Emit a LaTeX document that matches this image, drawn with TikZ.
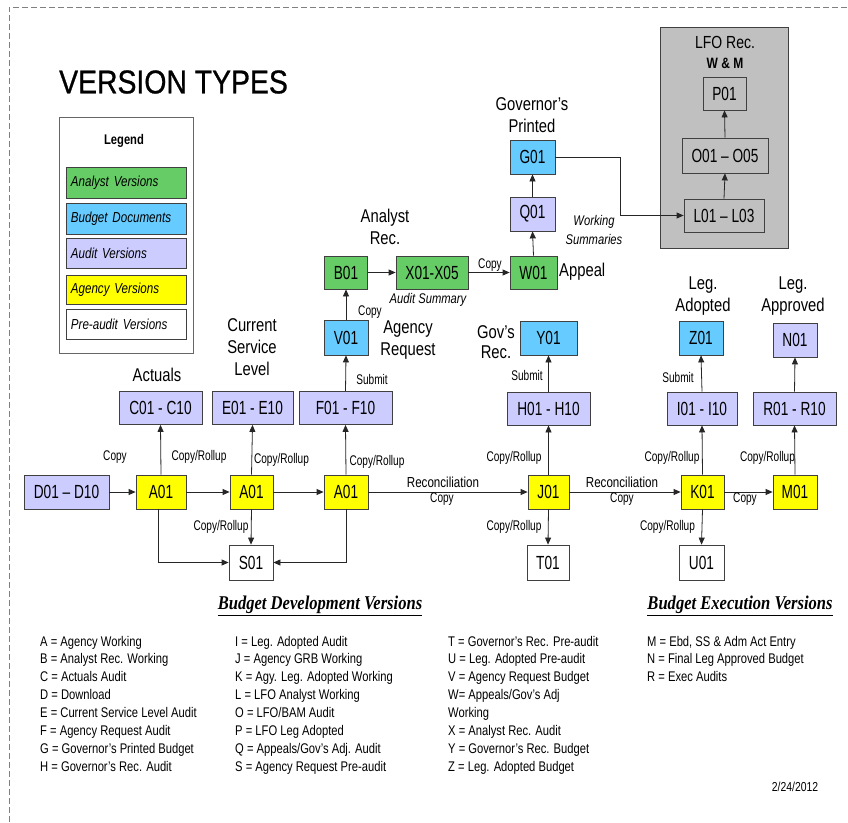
\documentclass[tikz,border=0pt]{standalone}
\usepackage{fontspec}
\setmainfont{Liberation Sans}[FakeStretch=0.8]
\newfontfamily\narrowfont{Liberation Sans}[FakeStretch=0.72]
\newfontfamily\titlefont{Liberation Sans}[FakeStretch=0.86, FakeBold=0.8]
\newfontfamily\headfont{Liberation Serif}[FakeStretch=0.85]
\usetikzlibrary{arrows.meta}

\definecolor{analyst}{HTML}{66CC66}
\definecolor{budgetdoc}{HTML}{66CCFF}
\definecolor{audit}{HTML}{CCCCFF}
\definecolor{agency}{HTML}{FFFF00}
\definecolor{lfogray}{HTML}{C0C0C0}
\definecolor{edge}{HTML}{404040}

\tikzset{
  vbox/.style={draw=edge, line width=0.8pt, inner sep=0pt, minimum height=34pt,
    font=\narrowfont\fontsize{19}{21}\selectfont},
  analystbox/.style={vbox, fill=analyst},
  docbox/.style={vbox, fill=budgetdoc},
  auditbox/.style={vbox, fill=audit},
  agencybox/.style={vbox, fill=agency},
  prebox/.style={vbox, fill=white},
  lfobox/.style={vbox, fill=lfogray},
  conn/.style={draw=black!85, line width=0.8pt, -{Triangle[length=7pt,width=6pt]}},
  tag/.style={font=\narrowfont\fontsize{14}{16}\selectfont, inner sep=0pt},
  caption/.style={font=\fontsize{18.5}{22}\selectfont, align=center, inner sep=0pt},
  note/.style={font=\itshape\fontsize{14}{19}\selectfont, align=center, inner sep=0pt},
  keyline/.style={font=\fontsize{14}{16}\selectfont, anchor=base west, inner sep=0pt},
  legendkey/.style={draw=edge, line width=0.8pt, inner sep=0pt, anchor=north west,
    minimum width=120pt, minimum height=31pt, text width=111pt, align=left,
    font=\itshape\fontsize{14.5}{16}\selectfont},
  heading/.style={font=\headfont\bfseries\itshape\fontsize{19.5}{21}\selectfont, inner sep=0pt},
}

\begin{document}
\begin{tikzpicture}[x=1pt, y=-1pt]
\useasboundingbox (0,0) rectangle (848,822);
\fill[white] (0,0) rectangle (848,822);

% dashed frame
\draw[gray, line width=1pt, dash pattern=on 6pt off 3pt] (9,822) -- (9,7) -- (848,7);

% title
\node[anchor=west, inner sep=0pt, font=\titlefont\fontsize{33}{35}\selectfont] (title) at (59,82) {VERSION TYPES};

% legend
\draw[draw=gray!80!black, line width=0.9pt] (59,117) rectangle (193,353);
\node[font=\bfseries\fontsize{14}{16}\selectfont, inner sep=0pt] (legendhead) at (124,141) {Legend};
\node[legendkey, fill=analyst] (k1) at (66,167) {Analyst Versions};
\node[legendkey, fill=budgetdoc] (k2) at (66,203) {Budget Documents};
\node[legendkey, fill=audit, minimum height=30pt] (k3) at (66,238) {Audit Versions};
\node[legendkey, fill=agency, minimum height=29pt] (k4) at (66,275) {Agency Versions};
\node[legendkey, fill=white, minimum height=30pt] (k5) at (66,309) {Pre-audit Versions};

% LFO panel
\draw[draw=edge, line width=1pt, fill=lfogray] (660,27) rectangle (788,248);
\node[font=\fontsize{17.5}{20}\selectfont, inner sep=0pt] (lforec) at (725,42) {LFO Rec.};
\node[font=\bfseries\fontsize{15}{18}\selectfont, inner sep=0pt] (wm) at (725,63) {W \& M};

% version boxes
\node[auditbox, minimum width=85pt] (d) at (66.5,492) {D01 – D10};
\node[agencybox, minimum width=50pt] (a1) at (161,492) {A01};
\node[agencybox, minimum width=43pt] (a2) at (251.5,492) {A01};
\node[agencybox, minimum width=44pt] (a3) at (346,492) {A01};
\node[prebox, minimum width=44pt, minimum height=35pt] (s) at (251,562.5) {S01};
\node[auditbox, minimum width=83pt, minimum height=33pt] (c) at (160.5,408) {C01 - C10};
\node[auditbox, minimum width=81pt, minimum height=33pt] (e) at (252.5,408) {E01 - E10};
\node[auditbox, minimum width=93pt, minimum height=33pt] (f) at (345.5,408) {F01 - F10};
\node[docbox, minimum width=44pt, minimum height=35pt] (v) at (346,337.5) {V01};
\node[analystbox, minimum width=43pt, minimum height=33pt] (b) at (346,272.5) {B01};
\node[analystbox, minimum width=72pt, minimum height=33pt] (x) at (432,272.5) {X01-X05};
\node[analystbox, minimum width=47pt, minimum height=33pt] (w) at (533.5,272.5) {W01};
\node[auditbox, minimum width=45pt] (q) at (532.5,214) {Q01};
\node[docbox, minimum width=45pt] (g) at (532.5,157) {G01};
\node[lfobox, minimum width=43pt, minimum height=33pt] (p) at (724.5,93.5) {P01};
\node[lfobox, minimum width=86pt, minimum height=35pt] (o) at (725,155.5) {O01 – O05};
\node[lfobox, minimum width=80pt, minimum height=33pt] (l) at (724,215.5) {L01 – L03};
\node[docbox, minimum width=57pt] (y) at (548.5,338) {Y01};
\node[auditbox, minimum width=83pt, minimum height=33pt] (h) at (548.5,408.5) {H01 - H10};
\node[agencybox, minimum width=41pt] (j) at (548.5,492) {J01};
\node[prebox, minimum width=42pt, minimum height=35pt] (t) at (548,562.5) {T01};
\node[docbox, minimum width=44pt] (z) at (701,338) {Z01};
\node[auditbox, minimum width=70pt, minimum height=33pt] (i) at (702,408.5) {I01 - I10};
\node[agencybox, minimum width=43pt] (k) at (702.5,492) {K01};
\node[prebox, minimum width=45pt, minimum height=35pt] (u) at (701.5,562.5) {U01};
\node[auditbox, minimum width=44pt] (n) at (795,340) {N01};
\node[auditbox, minimum width=83pt, minimum height=33pt] (r) at (794.5,408.5) {R01 - R10};
\node[agencybox, minimum width=44pt] (m) at (795,492) {M01};

% captions
\node[caption] (capact) at (157,375) {Actuals};
\node[caption] (capcsl) at (252,347) {Current\\Service\\Level};
\node[caption] (capreq) at (408,340) {Agency\\Request};
\node[caption] (capana) at (385,226.5) {Analyst\\Rec.};
\node[caption] (capgov) at (532,115.5) {Governor's\\Printed};
\node[caption, anchor=west] (capapp) at (559,272) {Appeal};
\node[caption, font=\fontsize{18.5}{20}\selectfont] (capgr) at (496,342) {Gov's\\Rec.};
\node[caption] (capado) at (703,296) {Leg.\\Adopted};
\node[caption] (capapr) at (793,296) {Leg.\\Approved};
\node[note] (worksum) at (594,229.5) {Working\\Summaries};
\node[note] (audsum) at (428,300) {Audit Summary};

% connectors along the main line
\draw[conn] (d) -- (a1);
\draw[conn] (a1) -- (a2);
\draw[conn] (a2) -- (a3);
\draw[conn] (a3) -- (j);
\draw[conn] (j) -- (k);
\draw[conn] (k) -- (m);

% audits and pre-audits
\draw[conn] (a1.north) -- (c.south);
\draw[conn] (a2.north) -- (e.south);
\draw[conn] (a3.north) -- (f.south);
\draw[conn] (a2.south) -- (s.north);
\draw[conn] ([xshift=-3pt]a1.south) |- (s.west);
\draw[conn] (a3.south) |- (s.east);
\draw[conn] (f.north) -- (v.south);
\draw[conn] (v.north) -- (b.south);
\draw[conn] (b) -- (x);
\draw[conn] (x) -- (w);
\draw[conn] (w.north) -- (q.south);
\draw[conn] (q.north) -- (g.south);
\draw[conn] (g.east) -- ++(65,0) |- (l.west);
\draw[conn] (l.north) -- (o.south);
\draw[conn] (o.north) -- (p.south);
\draw[conn] (j.north) -- (h.south);
\draw[conn] (h.north) -- (y.south);
\draw[conn] (j.south) -- (t.north);
\draw[conn] (k.north) -- (i.south);
\draw[conn] (i.north) -- (z.south);
\draw[conn] (k.south) -- (u.north);
\draw[conn] (m.north) -- (r.south);
\draw[conn] (r.north) -- (n.south);

% connector labels
\node[tag] (l1) at (115,457) {Copy};
\node[tag] (l2) at (199,457) {Copy/Rollup};
\node[tag] (l3) at (281.5,460) {Copy/Rollup};
\node[tag] (l4) at (377,462) {Copy/Rollup};
\node[tag] (l5) at (221,527) {Copy/Rollup};
\node[tag] (l6) at (372,379) {Submit};
\node[tag] (l7) at (370,312) {Copy};
\node[tag] (l8) at (490,265) {Copy};
\node[tag, font=\fontsize{14.5}{16}\selectfont] (l9) at (443,482) {Reconciliation};
\node[tag] (l10) at (442,499) {Copy};
\node[tag] (l11) at (514,458) {Copy/Rollup};
\node[tag] (l12) at (514,527) {Copy/Rollup};
\node[tag, font=\fontsize{14.5}{16}\selectfont] (l13) at (622,482) {Reconciliation};
\node[tag] (l14) at (622,499) {Copy};
\node[tag] (l15) at (672,458) {Copy/Rollup};
\node[tag] (l16) at (667.5,527) {Copy/Rollup};
\node[tag] (l17) at (745,499) {Copy};
\node[tag] (l18) at (767.5,458) {Copy/Rollup};
\node[tag] (l19) at (527,375) {Submit};
\node[tag] (l20) at (678,377) {Submit};

% key to version letters
\node[heading] (devhead) at (320,606) {\underline{Budget Development Versions}};
\node[heading] (exehead) at (740,606) {\underline{Budget Execution Versions}};

\foreach \txt [count=\ii] in {{A = Agency Working}, {B = Analyst Rec. Working},
    {C = Actuals Audit}, {D = Download}, {E = Current  Service Level Audit},
    {F = Agency Request Audit}, {G = Governor's Printed Budget}, {H = Governor's Rec. Audit}}
  \node[keyline] at (40,{646+17.9*(\ii-1)}) {\txt};
\foreach \txt [count=\ii] in {{I = Leg. Adopted Audit}, {J = Agency GRB Working},
    {K = Agy. Leg. Adopted Working}, {L = LFO Analyst Working}, {O = LFO/BAM Audit},
    {P = LFO Leg Adopted}, {Q = Appeals/Gov's Adj. Audit}, {S = Agency Request Pre-audit}}
  \node[keyline] at (235,{646+17.9*(\ii-1)}) {\txt};
\foreach \txt [count=\ii] in {{T = Governor's Rec. Pre-audit}, {U = Leg. Adopted Pre-audit},
    {V = Agency Request Budget}, {W= Appeals/Gov's Adj}, {Working},
    {X = Analyst Rec. Audit}, {Y = Governor's Rec. Budget}, {Z = Leg. Adopted Budget}}
  \node[keyline] at (448,{646+17.9*(\ii-1)}) {\txt};
\foreach \txt [count=\ii] in {{M = Ebd, SS \& Adm Act Entry}, {N = Final Leg Approved Budget},
    {R = Exec Audits}}
  \node[keyline] at (647,{646+17.9*(\ii-1)}) {\txt};

\node[font=\fontsize{13}{15}\selectfont, inner sep=0pt] (date) at (795,787) {2/24/2012};
\end{tikzpicture}
\end{document}
